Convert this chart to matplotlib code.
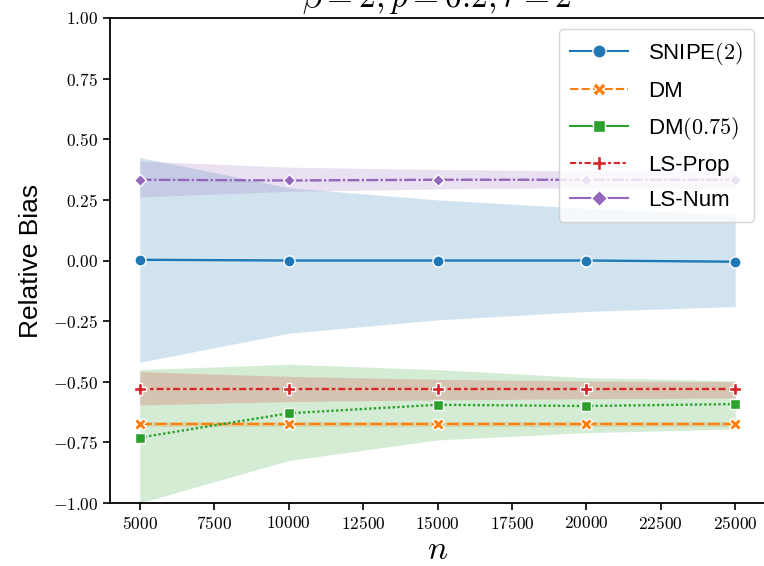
import matplotlib
matplotlib.use("Agg")
import matplotlib.pyplot as plt
from matplotlib.lines import Line2D
from matplotlib.ticker import FuncFormatter, FixedLocator

plt.rcParams['mathtext.fontset'] = 'cm'
plt.rcParams['font.family'] = ['Liberation Sans', 'DejaVu Sans']

n_vals = [5000, 10000, 15000, 20000, 25000]

snipe_mean = [0.003, 0.0, 0.0, 0.0, -0.005]
snipe_low = [-0.42, -0.30, -0.245, -0.21, -0.19]
snipe_high = [0.425, 0.30, 0.25, 0.215, 0.19]

dm_mean = [-0.675, -0.675, -0.675, -0.675, -0.675]
dm_low = [-0.685, -0.685, -0.685, -0.685, -0.685]
dm_high = [-0.665, -0.665, -0.665, -0.665, -0.665]

dm75_mean = [-0.73, -0.63, -0.595, -0.60, -0.592]
dm75_low = [-1.0, -0.825, -0.74, -0.71, -0.695]
dm75_high = [-0.45, -0.428, -0.45, -0.483, -0.496]

lsprop_mean = [-0.531, -0.531, -0.531, -0.531, -0.531]
lsprop_low = [-0.596, -0.582, -0.575, -0.57, -0.567]
lsprop_high = [-0.458, -0.478, -0.49, -0.497, -0.50]

lsnum_mean = [0.333, 0.330, 0.333, 0.333, 0.333]
lsnum_low = [0.262, 0.285, 0.295, 0.30, 0.30]
lsnum_high = [0.41, 0.385, 0.375, 0.37, 0.37]

labels = ['SNIPE$(2)$', 'DM', 'DM$(0.75)$', 'LS-Prop', 'LS-Num']
colors = ['#1f77b4', '#ff7f0e', '#2ca02c', '#d62728', '#9467bd']
markers = ['o', 'X', 's', 'P', 'D']
dashes = [None, (5, 1.5), (1, 1), (3, 1.25, 1.5, 1.25), (5, 1, 1, 1)]
legend_dashes = [None, (4, 1.5), None, (3, 1.25, 1.5, 1.25), None]
msizes = [8, 8, 6.5, 9, 6]
lmsizes = [9.5, 10, 8, 10.5, 8]

means = [snipe_mean, dm_mean, dm75_mean, lsprop_mean, lsnum_mean]
lows = [snipe_low, dm_low, dm75_low, lsprop_low, lsnum_low]
highs = [snipe_high, dm_high, dm75_high, lsprop_high, lsnum_high]

fig = plt.figure(figsize=(7.64, 5.66), dpi=100)
ax = fig.add_axes([110 / 764, 1 - 503 / 566, 655 / 764, 485 / 566])

for m, lo, hi, c, mk, d, ms in zip(means, lows, highs, colors, markers, dashes, msizes):
    ax.fill_between(n_vals, lo, hi, color=c, alpha=0.2, lw=0)
    ln, = ax.plot(n_vals, m, color=c, marker=mk, ms=ms, mec='white', mew=1.0, lw=1.7)
    if d is not None:
        ln.set_dashes(d)

ax.set_xlim(4000, 26000)
ax.set_ylim(-1.0, 1.0)
ax.xaxis.set_major_locator(FixedLocator([5000, 7500, 10000, 12500, 15000, 17500, 20000, 22500, 25000]))
ax.yaxis.set_major_locator(FixedLocator([-1.0, -0.75, -0.5, -0.25, 0.0, 0.25, 0.5, 0.75, 1.0]))
ax.xaxis.set_major_formatter(FuncFormatter(lambda v, p: r'$%d$' % int(round(v))))
ax.yaxis.set_major_formatter(FuncFormatter(lambda v, p: r'$%.2f$' % v if v != 0 else r'$0.00$'))
ax.tick_params(labelsize=12.5, length=5, width=1.2)
for s in ax.spines.values():
    s.set_linewidth(1.3)

ax.set_xlabel(r'$n$', fontsize=24, labelpad=2)
ax.set_ylabel('Relative Bias', fontsize=19, labelpad=7)

fig.text(437 / 764, 1 - 7.5 / 566, r'$\beta = 2, p = 0.2, r = 2$', fontsize=24,
         ha='center', va='baseline')

handles = []
for lab, c, mk, d, ms in zip(labels, colors, markers, legend_dashes, lmsizes):
    h = Line2D([], [], color=c, marker=mk, ms=ms, mec='white', mew=1.0, lw=1.5)
    if d is not None:
        h.set_dashes(d)
    handles.append(h)
ax.legend(handles, labels, loc='upper right', fontsize=16, labelspacing=0.6,
          handlelength=2.6, handletextpad=0.9, borderpad=0.5, borderaxespad=0.5,
          framealpha=0.8)

fig.savefig('out.png', dpi=100)
